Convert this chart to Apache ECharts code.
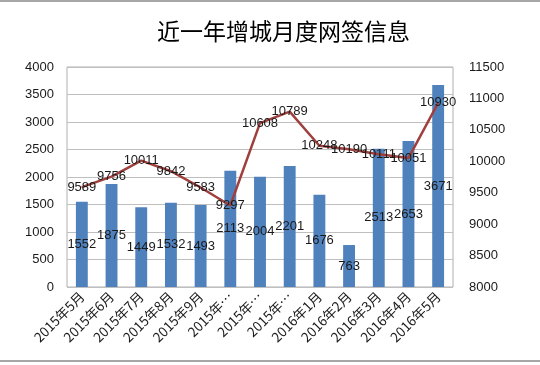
<!DOCTYPE html>
<html>
<head>
<meta charset="utf-8">
<script src="https://cdn.jsdelivr.net/npm/echarts@6/dist/echarts.min.js"></script>
<style>html,body{margin:0;padding:0;background:#fff}#c{width:540px;height:365px}</style>
</head>
<body>
<div id="c"></div>
<script>
const categories = ['2015年5月','2015年6月','2015年7月','2015年8月','2015年9月','2015年10月','2015年11月','2015年12月','2016年1月','2016年2月','2016年3月','2016年4月','2016年5月'];
const barValues = [1552,1875,1449,1532,1493,2113,2004,2201,1676,763,2513,2653,3671];
const lineValues = [9589,9756,10011,9842,9583,9297,10608,10789,10248,10190,10111,10051,10930];
const titleText = '近一年增城月度网签信息';

const chart = echarts.init(document.getElementById('c'));
const txt = '#1a1a1a';
chart.setOption({
  animation: false,
  textStyle: { fontFamily: 'Liberation Sans, Noto Sans CJK SC' },
  title: {
    text: titleText, left: 152, top: 15,
    textStyle: { fontFamily: 'Noto Sans CJK SC', fontWeight: 'normal', fontSize: 23, color: '#000' }
  },
  graphic: [
    { type: 'line', shape: { x1: 0, y1: 1, x2: 540, y2: 1 }, style: { stroke: '#a6a6a6', lineWidth: 2 } },
    { type: 'line', shape: { x1: 0, y1: 361, x2: 540, y2: 361 }, style: { stroke: '#a6a6a6', lineWidth: 2 } }
  ],
  grid: { left: 67, right: 87, top: 67, bottom: 78, show: true, borderColor: '#b0b0b0', borderWidth: 1 },
  xAxis: {
    type: 'category', data: categories,
    axisLine: { show: false }, axisTick: { show: false },
    axisLabel: {
      rotate: 45, interval: 0, fontSize: 13.5, color: txt, margin: 7,
      fontFamily: 'Noto Sans CJK SC',
      formatter: v => v.length >= 8 ? v.slice(0, 5) + '…' : v
    }
  },
  yAxis: [
    { type: 'value', min: 0, max: 4000, interval: 500,
      axisLine: { show: false }, axisTick: { show: false },
      axisLabel: { fontSize: 13, color: txt, margin: 13, formatter: v => String(v) },
      splitLine: { lineStyle: { color: '#bfbfbf' } } },
    { type: 'value', min: 8000, max: 11500, interval: 500,
      axisLine: { show: false }, axisTick: { show: false },
      axisLabel: { fontSize: 13, color: txt, margin: 16, formatter: v => String(v) },
      splitLine: { show: false } }
  ],
  series: [
    { type: 'bar', data: barValues, barWidth: '40%', itemStyle: { color: '#4F81BD' },
      label: { show: true, position: 'inside', color: txt, fontSize: 13 } },
    { type: 'line', yAxisIndex: 1, data: lineValues, symbol: 'circle', symbolSize: 1, showSymbol: true,
      itemStyle: { color: '#A0403E' },
      lineStyle: { color: '#A0403E', width: 2.5 }, z: 3,
      label: { show: true, position: 'inside', color: txt, fontSize: 13 } }
  ]
});
</script>
</body>
</html>
